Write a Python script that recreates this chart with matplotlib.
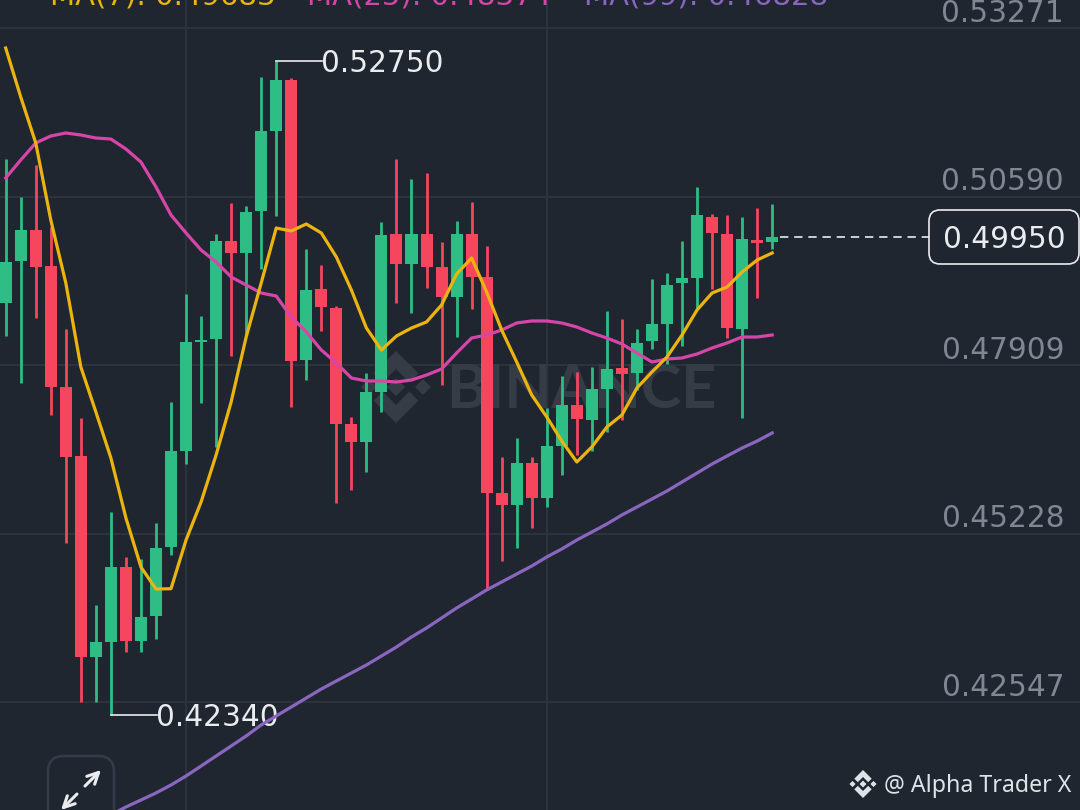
import matplotlib
matplotlib.use("Agg")
import matplotlib.pyplot as plt
import numpy as np
from matplotlib.patches import FancyBboxPatch, Polygon
from matplotlib.transforms import Affine2D, blended_transform_factory

# Candles, oldest first (prices)
opens = [0.48896, 0.49564, 0.50057, 0.49485, 0.47559, 0.46462, 0.43263, 0.43502, 0.44695, 0.43518,
         0.43916, 0.45014, 0.46541, 0.48275, 0.48323, 0.49883, 0.49692, 0.50360, 0.51633, 0.52444,
         0.47989, 0.49119, 0.48816, 0.46971, 0.46684, 0.47480, 0.49994, 0.49516, 0.49994, 0.49469,
         0.48991, 0.49994, 0.49310, 0.45873, 0.45682, 0.46350, 0.45793, 0.46621, 0.47273, 0.47034,
         0.47528, 0.47862, 0.47782, 0.48291, 0.48562, 0.49214, 0.49294, 0.50264, 0.49994, 0.48482,
         0.49898, 0.49867]
closes = [0.49548, 0.50057, 0.49469, 0.47559, 0.46446, 0.43263, 0.43502, 0.44695, 0.43518, 0.43900,
          0.44998, 0.46541, 0.48275, 0.48307, 0.49883, 0.49692, 0.50344, 0.51633, 0.52444, 0.47973,
          0.49103, 0.48832, 0.46971, 0.46684, 0.47480, 0.49978, 0.49516, 0.49994, 0.49469, 0.48991,
          0.49994, 0.49310, 0.45873, 0.45682, 0.46350, 0.45793, 0.46621, 0.47273, 0.47050, 0.47528,
          0.47846, 0.47766, 0.48260, 0.48562, 0.49182, 0.49294, 0.50296, 0.50010, 0.48498, 0.49914,
          0.49851, 0.49950]
highs = [0.51187, 0.50583, 0.51092, 0.50105, 0.48482, 0.47066, 0.44091, 0.45571, 0.44855, 0.44823,
         0.45396, 0.47321, 0.49039, 0.48689, 0.49994, 0.50487, 0.50439, 0.52492, 0.52750, 0.52476,
         0.49755, 0.49501, 0.48848, 0.47082, 0.47782, 0.50185, 0.51187, 0.50869, 0.50964, 0.49867,
         0.50201, 0.50503, 0.49803, 0.46446, 0.46748, 0.46446, 0.47225, 0.47734, 0.47798, 0.47878,
         0.48769, 0.48641, 0.48482, 0.49278, 0.49373, 0.49883, 0.50742, 0.50312, 0.50296, 0.50264,
         0.50408, 0.50471]
lows = [0.48371, 0.47623, 0.48657, 0.47114, 0.45077, 0.42547, 0.42547, 0.42340, 0.43343, 0.43343,
        0.43550, 0.44886, 0.46334, 0.47305, 0.46605, 0.48053, 0.48387, 0.49437, 0.50280, 0.47241,
        0.47671, 0.48450, 0.45714, 0.45921, 0.46207, 0.47162, 0.48896, 0.48737, 0.49135, 0.47591,
        0.48355, 0.48801, 0.44330, 0.44791, 0.44998, 0.45316, 0.45650, 0.46159, 0.46478, 0.46541,
        0.46843, 0.47034, 0.47512, 0.48164, 0.47925, 0.48212, 0.48785, 0.49119, 0.48339, 0.47066,
        0.48976, 0.49755]

# Moving averages
ma7 = [0.52953, 0.52174, 0.51442, 0.50217, 0.49214, 0.47878, 0.47162, 0.46430, 0.45475, 0.44695,
       0.44345, 0.44350, 0.45125, 0.45730, 0.46478, 0.47321, 0.48355, 0.49214, 0.50089, 0.50042,
       0.50153, 0.50010, 0.49628, 0.49103, 0.48498, 0.48148, 0.48371, 0.48498, 0.48594, 0.48864,
       0.49357, 0.49612, 0.49071, 0.48466, 0.47957, 0.47432, 0.47082, 0.46700, 0.46366, 0.46605,
       0.46923, 0.47114, 0.47544, 0.47798, 0.48037, 0.48387, 0.48785, 0.49055, 0.49151, 0.49389,
       0.49580, 0.49692]
ma25 = [0.50885, 0.51171, 0.51442, 0.51553, 0.51601, 0.51569, 0.51521, 0.51505, 0.51346, 0.51139,
        0.50742, 0.50296, 0.50010, 0.49739, 0.49548, 0.49310, 0.49182, 0.49055, 0.49007, 0.48673,
        0.48435, 0.48148, 0.47941, 0.47703, 0.47655, 0.47655, 0.47639, 0.47671, 0.47750, 0.47846,
        0.48100, 0.48339, 0.48387, 0.48466, 0.48578, 0.48610, 0.48610, 0.48578, 0.48514, 0.48419,
        0.48339, 0.48244, 0.48100, 0.47957, 0.48005, 0.48021, 0.48085, 0.48180, 0.48260, 0.48355,
        0.48355, 0.48387]
ma99_start = 7  # earlier values are below the visible range
ma99 = [0.40750, 0.40877, 0.40988, 0.41100, 0.41227, 0.41370, 0.41529, 0.41688, 0.41847, 0.42007, 0.42182,
        0.42325, 0.42468, 0.42611, 0.42754, 0.42882, 0.43009, 0.43136, 0.43279, 0.43423, 0.43582,
        0.43725, 0.43884, 0.44043, 0.44186, 0.44330, 0.44457, 0.44584, 0.44711, 0.44855, 0.44982,
        0.45125, 0.45252, 0.45380, 0.45523, 0.45650, 0.45777, 0.45905, 0.46048, 0.46191, 0.46334,
        0.46462, 0.46589, 0.46700, 0.46828]

price_ticks = [0.53271, 0.50590, 0.47909, 0.45228, 0.42547]
time_ticks = [12, 36]
ma_labels = ["MA(7): 0.49683", "MA(25): 0.48374", "MA(99): 0.46828"]
last_price = closes[-1]
high_price = max(highs)
low_price = min(lows)

BG = "#1f2630"
GRID = "#2f3640"
UP = "#2ebd85"
DOWN = "#f6465d"
YELLOW = "#ecb40e"
MAGENTA = "#d845a8"
PURPLE = "#8a66c0"
TICK = "#7f8793"
WHITE = "#eaecef"
WATERMARK = "#353c46"
W, H = 1080, 810

fig = plt.figure(figsize=(W / 100, H / 100), dpi=100, facecolor=BG)
ax = fig.add_axes([0, 0, 1, 1], facecolor=BG)
ax.set_xlim(-0.379, 71.48)
ax.set_ylim(0.40829, 0.53717)
for s in ax.spines.values():
    s.set_visible(False)

# image pixels, y going down, for the furniture that is not data
px = Affine2D().scale(1 / W, -1 / H).translate(0, 1) + fig.transFigure


def binance_logo(cx, cy, r, color, zorder):
    top = [(0, -1), (0.62, -0.38), (0.37, -0.13), (0, -0.5), (-0.37, -0.13), (-0.62, -0.38)]
    bottom = [(x, -y) for x, y in top]
    parts = [top, bottom]
    for dx, half in [(0, 0.25), (-0.75, 0.22), (0.75, 0.22)]:
        parts.append([(dx, -half), (dx + half, 0), (dx, half), (dx - half, 0)])
    for p in parts:
        pts = [(cx + x * r, cy + y * r) for x, y in p]
        ax.add_patch(Polygon(pts, closed=True, fc=color, ec="none", transform=px, zorder=zorder))


# grid
ax.set_xticks(time_ticks)
ax.set_yticks(price_ticks)
ax.grid(True, color=GRID, lw=1.2)
ax.set_axisbelow(True)
ax.tick_params(length=0, labelleft=False, labelbottom=False)

# watermark
binance_logo(396, 387, 36, WATERMARK, 1)
ax.text(446, 390, "BINANCE", transform=px, color=WATERMARK, fontsize=44, fontweight="bold", family="Lato",
        ha="left", va="center", zorder=1)

# candles
x = np.arange(len(opens))
o = np.array(opens)
c = np.array(closes)
colors = [UP if b >= a else DOWN for a, b in zip(opens, closes)]
ax.vlines(x, lows, highs, colors=colors, lw=2.0, zorder=2)
ax.bar(x, np.abs(c - o), bottom=np.minimum(o, c), width=0.8, color=colors, zorder=3)

# moving averages
ax.plot(x, ma25, color=MAGENTA, lw=2.3, zorder=4)
ax.plot(x, ma7, color=YELLOW, lw=2.3, zorder=5)
ax.plot(x[ma99_start:], ma99, color=PURPLE, lw=2.3, zorder=4)

# price labels on the right
ytrans = blended_transform_factory(px, ax.transData)
for p in price_ticks:
    ax.annotate(f"{p:.5f}", xy=(1064, p), xycoords=ytrans, xytext=(0, 15), textcoords="offset pixels",
                color=TICK, fontsize=21.3, ha="right", va="center")

# high / low leaders
ax.plot([18, 21.05], [high_price, high_price], color=WHITE, lw=1.2, zorder=7)
ax.annotate(f"{high_price:.5f}", xy=(20.95, high_price), xytext=(0, -2.5), textcoords="offset pixels",
            color=WHITE, fontsize=21.3, va="center", ha="left", zorder=7)
ax.plot([7, 10.07], [low_price, low_price], color=WHITE, lw=1.2, zorder=3.5)
ax.annotate(f"{low_price:.5f}", xy=(9.97, low_price), xytext=(0, -2.5), textcoords="offset pixels",
            color=WHITE, fontsize=21.3, va="center", ha="left", zorder=3.5)

# last price
ax.hlines(last_price, 51.5, 61.4, color=WHITE, lw=1.2, linestyles=(0, (5, 3.5)), zorder=3)
ax.add_patch(FancyBboxPatch((929, 210), 150, 54, boxstyle="round,pad=0,rounding_size=11", fc=BG,
                            ec=WHITE, lw=1.2, transform=px, zorder=6))
ax.text(1004, 239, f"{last_price:.5f}", transform=px, color=WHITE, fontsize=21.3, ha="center", va="center",
        zorder=7)

# MA legend, cut off by the top edge
for label, lx, col in zip(ma_labels, [50, 307, 584], [YELLOW, MAGENTA, PURPLE]):
    ax.text(lx, 5, label, transform=px, color=col, fontsize=21, ha="left", va="baseline")

# expand button
ax.add_patch(FancyBboxPatch((48, 756), 66, 90, boxstyle="round,pad=0,rounding_size=16", fc="none",
                            ec="#343a46", lw=1.9, transform=px, zorder=6))
for start, end in [((85, 786), (101, 770)), ((77, 794), (61, 810))]:
    ax.annotate("", xy=end, xytext=start, xycoords=px, textcoords=px, zorder=7,
                arrowprops=dict(arrowstyle="->", color=WHITE, lw=2.2, shrinkA=0, shrinkB=0, mutation_scale=20))

# footer
binance_logo(863, 784, 14, "#dfe3e8", 7)
ax.text(884, 785.5, "@ Alpha Trader X", transform=px, color="#dfe3e8", fontsize=16.7, family="Noto Sans",
        ha="left", va="center", zorder=7)

fig.savefig("out.png", dpi=100, facecolor=BG)
